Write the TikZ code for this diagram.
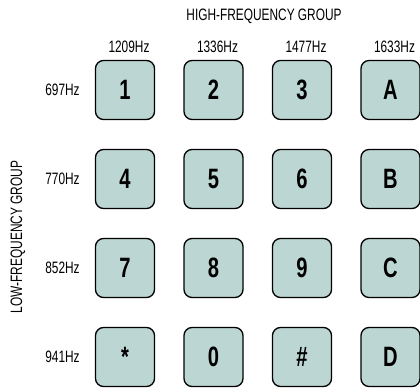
\documentclass[tikz,border=0pt]{standalone}
\usepackage{fontspec}
\setmainfont{Liberation Sans}[FakeStretch=0.72]
\usepackage{xcolor}
\definecolor{keyfill}{HTML}{BCD6D3}
\usetikzlibrary{positioning}

\begin{document}
\begin{tikzpicture}[x=1pt, y=-1pt,
	key/.style={draw, fill=keyfill, rounded corners=8pt, line width=1.3pt,
		minimum width=59pt, minimum height=59pt, inner sep=0pt,
		font=\fontsize{28}{28}\selectfont\bfseries},
	freq/.style={inner sep=0pt, font=\fontsize{16.5}{16.5}\selectfont}]
	
	\useasboundingbox (0,0) rectangle (420,388);
	
	% keypad
	\foreach \r/\keys in {1/{1,2,3,A}, 2/{4,5,6,B}, 3/{7,8,9,C}, 4/{*,0,\#,D}} {
		\foreach \k [count=\c] in \keys {
			\node[key] (key-\r-\c) at ({125+(\c-1)*88.5}, {90+(\r-1)*89}) {\k};
		}
	}
	
	% column frequencies
	\foreach \f [count=\c] in {1209,1336,1477,1633} {
		\node[freq, above=7pt of key-1-\c, xshift=4pt] (hf-\c) {\f Hz};
	}
	% row frequencies
	\foreach \f [count=\r] in {697,770,852,941} {
		\node[freq, left=15pt of key-\r-1] (lf-\r) {\f Hz};
	}
	
	\node[freq] (hgroup) at (264, 16) {HIGH-FREQUENCY GROUP};
	\node[freq, rotate=90] (lgroup) at (18, 237) {LOW-FREQUENCY GROUP};
\end{tikzpicture}
\end{document}
